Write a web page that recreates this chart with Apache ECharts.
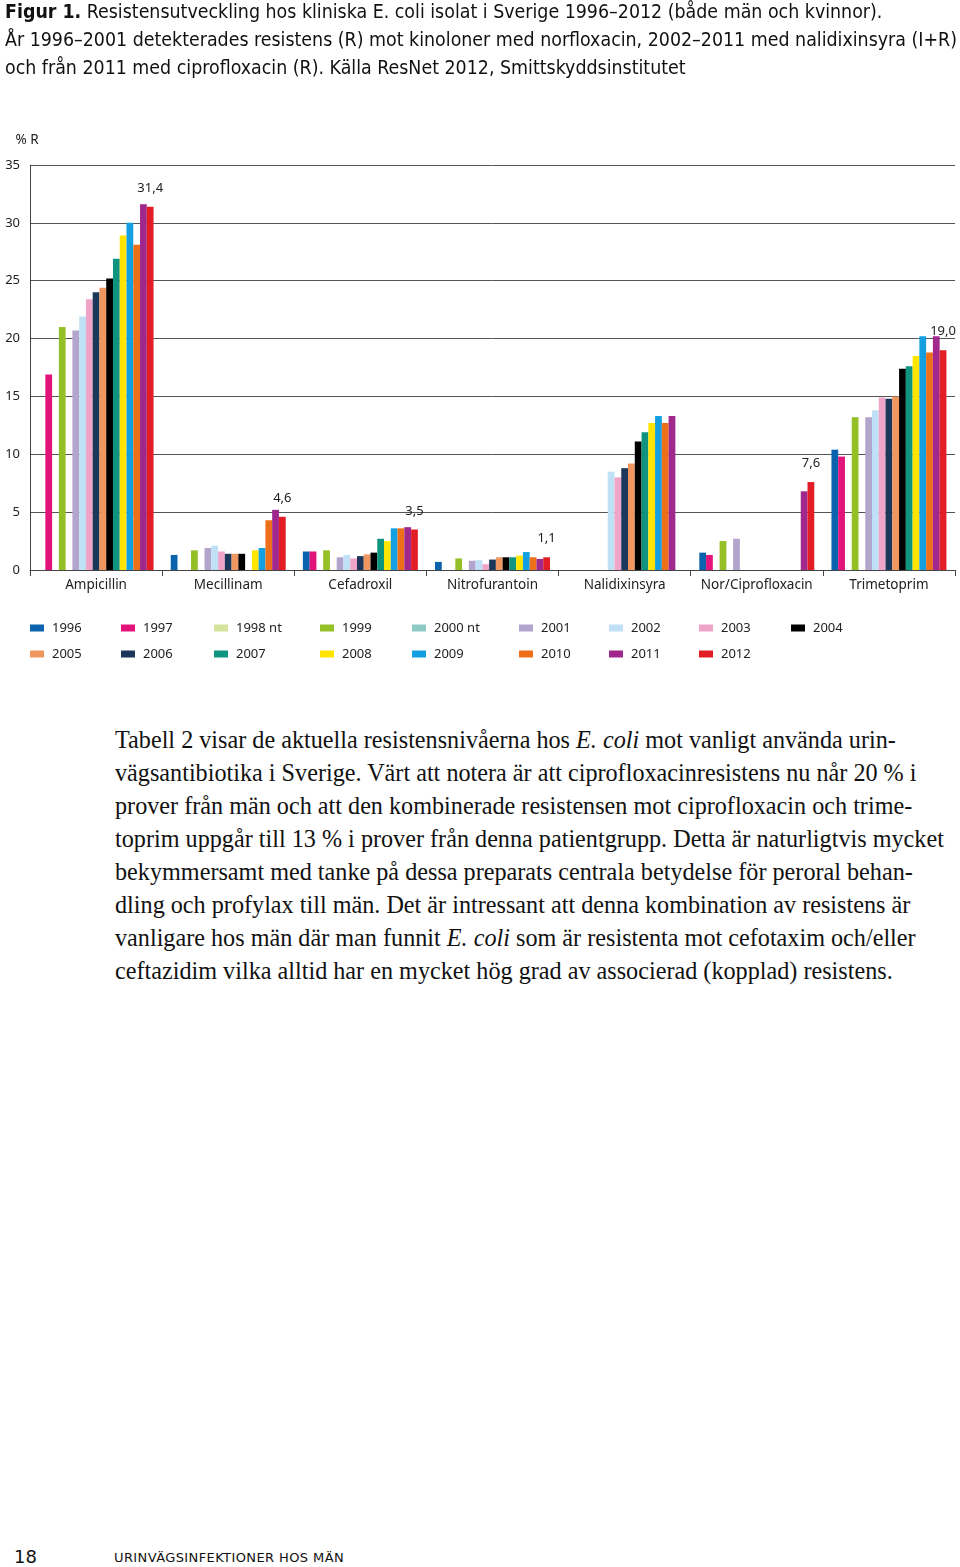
<!DOCTYPE html>
<html><head><meta charset="utf-8">
<script src="https://cdn.jsdelivr.net/npm/echarts@6/dist/echarts.min.js"></script>
<style>
html,body{margin:0;padding:0;background:#fff;width:960px;height:1567px;overflow:hidden}
body{position:relative}
#title{position:absolute;left:5px;top:-2px;font-family:"DejaVu Sans";font-stretch:condensed;font-size:19.4px;line-height:28px;color:#111;white-space:nowrap}
#chart{position:absolute;left:0;top:0;width:960px;height:700px}
#para{position:absolute;left:115px;top:723px;font-family:"Liberation Serif";font-size:24.2px;line-height:33px;color:#111;white-space:nowrap}
#pnum{position:absolute;left:14px;top:1545px;font-family:"DejaVu Sans";font-size:18px;line-height:24px;color:#111}
#run{position:absolute;left:114px;top:1549px;font-family:"DejaVu Sans";font-size:13px;line-height:18px;color:#111;letter-spacing:0.4px}
</style></head>
<body>
<div id="chart"></div>
<div id="title"><b>Figur 1.</b> Resistensutveckling hos kliniska E. coli isolat i Sverige 1996–2012 (både män och kvinnor).<br>År 1996–2001 detekterades resistens (R) mot kinoloner med norfloxacin, 2002–2011 med nalidixinsyra (I+R)<br>och från 2011 med ciprofloxacin (R). Källa ResNet 2012, Smittskyddsinstitutet</div>
<div id="para">Tabell 2 visar de aktuella resistensnivåerna hos <i>E. coli</i> mot vanligt använda urin-<br>vägsantibiotika i Sverige. Värt att notera är att ciprofloxacinresistens nu når 20 % i<br>prover från män och att den kombinerade resistensen mot ciprofloxacin och trime-<br>toprim uppgår till 13 % i prover från denna patientgrupp. Detta är naturligtvis mycket<br>bekymmersamt med tanke på dessa preparats centrala betydelse för peroral behan-<br>dling och profylax till män. Det är intressant att denna kombination av resistens är<br>vanligare hos män där man funnit <i>E. coli</i> som är resistenta mot cefotaxim och/eller<br>ceftazidim vilka alltid har en mycket hög grad av associerad (kopplad) resistens.</div>
<div id="pnum">18</div>
<div id="run">URINVÄGSINFEKTIONER HOS MÄN</div>
<script>
// ---- data ----
const categories = ['Ampicillin','Mecillinam','Cefadroxil','Nitrofurantoin','Nalidixinsyra','Nor/Ciprofloxacin','Trimetoprim'];
const yTickMin = 0, yTickMax = 35, yTickStep = 5;
const years = ['1996','1997','1998 nt','1999','2000 nt','2001','2002','2003','2004','2005','2006','2007','2008','2009','2010','2011','2012'];
const v1996   = [null, 1.3, 1.6, 0.7, null, 1.5, 10.4];
const v1997   = [16.9, null, 1.6, null, null, 1.3, 9.8];
const v1998nt = [null, null, null, null, null, null, null];
const v1999   = [21.0, 1.7, 1.7, 1.0, null, 2.5, 13.2];
const v2000nt = [null, null, null, null, null, null, null];
const v2001   = [20.7, 1.9, 1.1, 0.8, null, 2.7, 13.2];
const v2002   = [21.9, 2.1, 1.3, 0.85, 8.5, null, 13.8];
const v2003   = [23.4, 1.6, 1.0, 0.5, 8.0, null, 14.9];
const v2004   = [25.2, 1.4, 1.5, 1.1, 11.1, null, 17.4];
const v2005   = [24.4, 1.4, 1.35, 1.1, 9.2, null, 15.0];
const v2006   = [24.0, 1.4, 1.2, 0.9, 8.8, null, 14.8];
const v2007   = [26.9, null, 2.7, 1.1, 11.9, null, 17.6];
const v2008   = [28.9, 1.7, 2.5, 1.25, 12.7, null, 18.5];
const v2009   = [30.0, 1.9, 3.6, 1.55, 13.3, null, 20.2];
const v2010   = [28.1, 4.3, 3.6, 1.1, 12.7, null, 18.8];
const v2011   = [31.6, 5.2, 3.7, 0.95, 13.3, 6.8, 20.2];
const v2012   = [31.4, 4.6, 3.5, 1.1, null, 7.6, 19.0];

const valuesByYear = {
  '1996': v1996, '1997': v1997, '1998 nt': v1998nt, '1999': v1999, '2000 nt': v2000nt,
  '2001': v2001, '2002': v2002, '2003': v2003, '2004': v2004, '2005': v2005, '2006': v2006,
  '2007': v2007, '2008': v2008, '2009': v2009, '2010': v2010, '2011': v2011, '2012': v2012
};

// ---- styles ----
const colors = {
  '1996':'#0c63ad','1997':'#e2147b','1998 nt':'#d4e29c','1999':'#95bf26','2000 nt':'#8fcac5',
  '2001':'#b2a4cc','2002':'#bfe0f5','2003':'#f0a5c8','2004':'#000000','2005':'#f0965f',
  '2006':'#1c3759','2007':'#0f9480','2008':'#ffe500','2009':'#149fe0','2010':'#ee6f1a',
  '2011':'#a0278b','2012':'#e21d25'
};
// bar slot order as drawn in the figure
const slotOrder = ['1996','1997','1998 nt','1999','2000 nt','2001','2002','2003','2006','2005','2004','2007','2008','2009','2010','2011','2012'];
const legendCols = [['1996','2005'],['1997','2006'],['1998 nt','2007'],['1999','2008'],['2000 nt','2009'],['2001','2010'],['2002','2011'],['2003','2012'],['2004']];
const legendLeft = [30,121,214,320,412,519,609,699,791];

const FONT = '"Noto Sans", "Open Sans", sans-serif';
const series = slotOrder.map(y => ({
  name: y, type: 'bar', data: valuesByYear[y],
  barGap: '0%', barCategoryGap: '13%',
  itemStyle: { color: colors[y] },
  label: y === '2012' ? {
    show: true, position: 'top', distance: 12, color: '#222', fontSize: 13, fontFamily: FONT,
    formatter: p => p.value == null ? '' : p.value.toFixed(1).replace('.', ',')
  } : { show: false },
  emphasis: { disabled: true }
}));

const legends = legendCols.map((col, i) => ({
  data: col.map(n => ({ name: n, icon: 'rect' })),
  orient: 'vertical', left: legendLeft[i], top: 620, padding: 0,
  itemWidth: 14, itemHeight: 7, itemGap: 10, selectedMode: false,
  textStyle: { fontFamily: FONT, fontSize: 13, color: '#222', lineHeight: 16, padding: [0,0,0,3] }
}));

const chart = echarts.init(document.getElementById('chart'), null, { renderer: 'canvas' });
chart.setOption({
  animation: false,
  backgroundColor: '#fff',
  legend: legends,
  grid: { left: 30, top: 165, width: 925, height: 405, containLabel: false },
  xAxis: {
    type: 'category', data: categories,
    axisLine: { lineStyle: { color: '#444', width: 1 } },
    axisTick: { show: true, length: 6, lineStyle: { color: '#444' } },
    axisLabel: { margin: 8, fontFamily: FONT, fontSize: 13.5, color: '#222', interval: 0 }
  },
  yAxis: {
    type: 'value', min: yTickMin, max: yTickMax, interval: yTickStep,
    name: '% R', nameLocation: 'end', nameGap: 18,
    nameTextStyle: { fontFamily: FONT, fontSize: 13.5, color: '#222', align: 'center', padding: [0, 6, 0, 0] },
    axisLine: { show: true, lineStyle: { color: '#444', width: 1 } },
    axisTick: { show: false },
    axisLabel: { margin: 10, fontFamily: FONT, fontSize: 13, color: '#222' },
    splitLine: { lineStyle: { color: '#555', width: 1 } }
  },
  series: series
});
</script>
</body></html>
